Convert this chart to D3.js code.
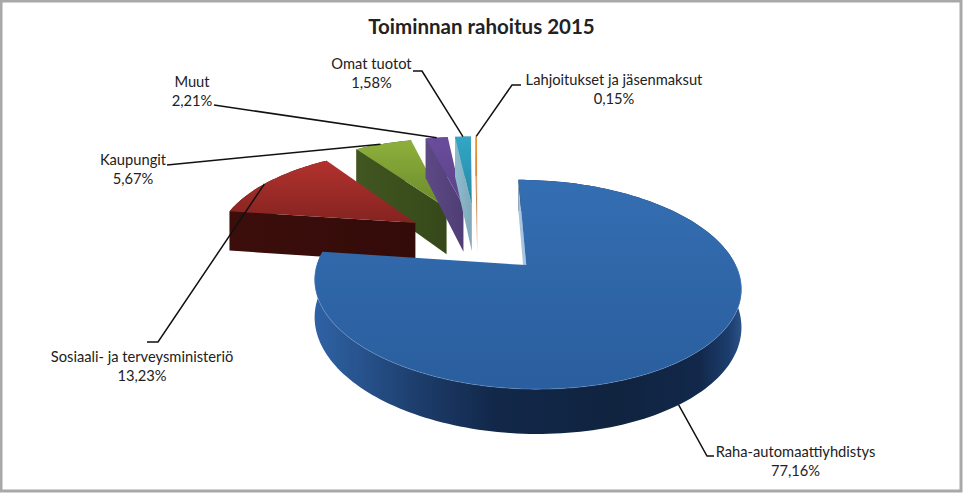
<!DOCTYPE html>
<html><head><meta charset="utf-8">
<script src="https://cdnjs.cloudflare.com/ajax/libs/d3/7.8.5/d3.min.js"></script>
<style>html,body{margin:0;padding:0;background:#fff}svg{display:block}text{font-family:Lato,"Open Sans",sans-serif;fill:#222}</style>
</head><body><svg id="c" width="963" height="493"></svg>
<script>
const titleText = "Toiminnan rahoitus 2015";
const categories = ["Raha-automaattiyhdistys","Sosiaali- ja terveysministeriö","Kaupungit","Muut","Omat tuotot","Lahjoitukset ja jäsenmaksut"];
const values = [77.16,13.23,5.67,2.21,1.58,0.15];
const valueLabels = ["77,16%","13,23%","5,67%","2,21%","1,58%","0,15%"];

// styling and layout, by slice index
const topColors  = [["#346eb2","#2a5e9e"],["#b3322e","#842320"],["#8db03c","#6a8a2b"],["#6a4c9c","#5b4288"],["#33a6c6","#2787a6"],["#e8943a","#d07a25"]];
const wallColors = [["#2f62a4","#13294a"],["#3c0e0b","#330b09"],["#415620","#36481a"],["#5d4a85","#4f3d75"],["#8dbccf","#7fa9bb"],["#c98a55","#c98a55"]];
const thickness  = [1.067,1.08,1.095,1.095,1.095,1.095];
const drawOrder  = [2,3,4,5,1,0];
const labelPos   = [[795.5,457],[142,362],[133,165],[192,87],[371.5,69],[614,85]];
const leaderBend = [[[707,456],[714,456]],[[158,342],[147,342]],[[167,165]],[[214,105]],[[422,71],[413,71]],[[512,85],[521,85]]];
const leaderFrac = [.52,.45,.45,.5,.5,.5];
const nudge      = [[-.01,0],[.01,.03],[0,0],[0,0],[0,0],[.008,0]];

const W=963,H=493, xc=476, horizon=-280, A=2940, F=1130, w0=5.68, explode=.38;
const svg=d3.select("#c");
const defs=svg.append("defs");
svg.append("rect").attr("x",1).attr("y",1).attr("width",W-3).attr("height",H-3).attr("fill","#fff").attr("stroke","#a8a8a8").attr("stroke-width",3);
svg.append("text").attr("x",481.5).attr("y",34).attr("text-anchor","middle").attr("font-size",20.5).attr("font-weight",700).text(titleText);

const arcs=d3.pie().sort(null).startAngle(0).endAngle(2*Math.PI)(values);
const dir=a=>[Math.sin(a),-Math.cos(a)];
const line=d3.line().curve(d3.curveLinear);

function project(X,Y,k){const s=1/(w0-Y);return [xc+F*X*s, horizon+A*k*s];}
function geom(d,i){
  const mid=(d.startAngle+d.endAngle)/2,[ex,ey]=dir(mid),cx=ex*explode+nudge[i][0],cy=ey*explode+nudge[i][1];
  const n=Math.max(2,Math.ceil((d.endAngle-d.startAngle)*40));
  const rim=d3.range(n+1).map(j=>{const [u,v]=dir(d.startAngle+(d.endAngle-d.startAngle)*j/n);return [cx+u,cy+v];});
  return {cx,cy,rim,k:thickness[i]};
}
function grad(id,stops,x2,y2){
  const g=defs.append("linearGradient").attr("id",id).attr("x1",0).attr("y1",0).attr("x2",x2).attr("y2",y2);
  stops.forEach(([o,c])=>g.append("stop").attr("offset",o).attr("stop-color",c));
}
const blueWallStops=[[0,"#2f62a4"],[.1,"#28548f"],[.25,"#1c3c6a"],[.42,"#12284a"],[.7,"#10233f"],[.9,"#12284a"],[.97,"#1c3d6c"],[1,"#2c5288"]];
arcs.forEach((d,i)=>{
  grad("t"+i,[[0,topColors[i][0]],[1,topColors[i][1]]],0,1);
  grad("w"+i,i===0?blueWallStops:[[0,wallColors[i][0]],[1,wallColors[i][1]]],1,0);
});
const P=(p,k=1)=>project(p[0],p[1],k);
drawOrder.forEach(i=>{
  const d=arcs[i],g=geom(d,i),g0=svg.append("g");
  const c=[g.cx,g.cy],first=g.rim[0];
  g0.append("path").attr("d",line([...g.rim.map(p=>P(p)),...g.rim.slice().reverse().map(p=>P(p,g.k))])+"Z").attr("fill",`url(#w${i})`);
  g0.append("path").attr("d",line([P(c),P(first),P(first,g.k),P(c,g.k)])+"Z").attr("fill",i===0?"#a9c4de":`url(#w${i})`);
  g0.append("path").attr("d",line([P(c),...g.rim.map(p=>P(p))])+"Z").attr("fill",`url(#t${i})`);
  if(i===0) g0.append("path").attr("d",line(g.rim.filter(p=>p[1]>g.cy).map(p=>P(p)))).attr("fill","none").attr("stroke","#7fa8d6").attr("stroke-opacity",.45).attr("stroke-width",.8);
});
// leaders and labels
arcs.forEach((d,i)=>{
  const g=geom(d,i),a0=d.startAngle+(d.endAngle-d.startAngle)*leaderFrac[i],[u,v]=dir(a0),p=[g.cx+u,g.cy+v];
  const a=i===0?P(p,g.k):P(p);
  svg.append("path").attr("d",line([a,...leaderBend[i]])).attr("fill","none").attr("stroke","#111").attr("stroke-width",1.5);
  const t=svg.append("text").attr("text-anchor","middle").attr("font-size",14.7);
  t.append("tspan").attr("x",labelPos[i][0]).attr("y",labelPos[i][1]).text(categories[i]);
  t.append("tspan").attr("x",labelPos[i][0]).attr("y",labelPos[i][1]+19).text(valueLabels[i]);
});
</script></body></html>
